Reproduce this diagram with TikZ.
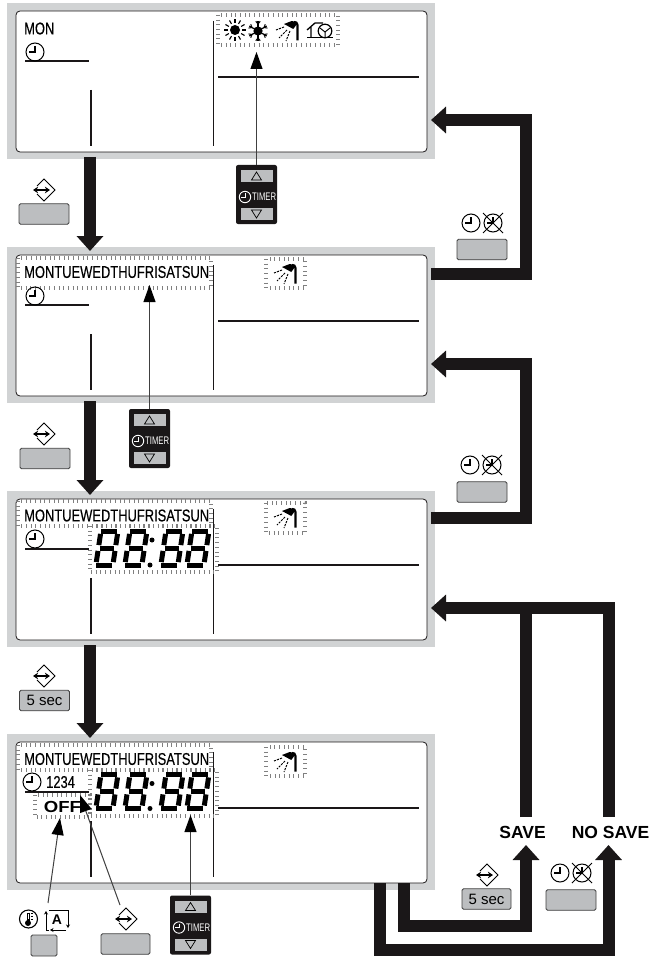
\documentclass[tikz,border=0pt]{standalone}
\usepackage{fontspec}
\setmainfont{Liberation Sans}
\newfontfamily\lcdfont[FakeStretch=0.76,FakeBold=0.3]{Liberation Sans}
\newfontfamily\timerfont[FakeStretch=0.7]{Liberation Sans}
\newfontfamily\offfont[FakeStretch=1.16]{Liberation Sans}
\usetikzlibrary{arrows.meta}
\definecolor{panelgray}{HTML}{D1D3D4}
\definecolor{keygray}{HTML}{BCBEC0}
\definecolor{inkblack}{HTML}{1A1718}

\newcommand{\lcdpanel}[2]{
\begin{scope}[shift={(0,#2)}]
\node[panelback] (#1back) at (221,78) {};
\node[panelface] (#1) at (221.5,78.5) {};
\coordinate (#1out) at (431,27);
\coordinate (#1in) at (431,117);
\coordinate (#1tip) at (90,4);
\coordinate (#1tail) at (90,154);
\draw[lcdline] (25,58) -- (89,58);
\draw[lcdline] (91,87) -- (91,143);
\draw[lcdline] (213.5,18) -- (213.5,143);
\draw[lcdline] (218,74) -- (419,74);
\end{scope}
}
\newcommand{\clockicon}[2]{
\begin{scope}[shift={(#1,#2)}]
\draw[line width=1pt] (0,0) circle (9);
\draw[line width=1.3pt] (0,-6) -- (0,0) -- (-6.5,0);
\end{scope}
}
\newcommand{\offclockicon}[2]{
\clockicon{#1}{#2}
\begin{scope}[shift={(#1+22,#2)}]
\draw[line width=1pt] (0,0) circle (9);
\draw[line width=1pt] (-10,-10) -- (10,10) (10,-10) -- (-10,10);
\draw[line width=1.3pt] (0,-6) -- (0,0) -- (-6.5,0);
\end{scope}
}
\newcommand{\modeicon}[2]{
\begin{scope}[shift={(#1,#2)}]
\draw[line width=1pt] (-7,-4) -- (0,-11) -- (11,0) -- (0,11) -- (-7,4);
\draw[line width=1.6pt,{Stealth[length=5pt,width=6.5pt]}-{Stealth[length=5pt,width=6.5pt]}] (-11,0) -- (6,0);
\end{scope}
}
\newcommand{\showericon}[2]{
\begin{scope}[shift={(#1,#2)}]
\draw[line width=2.2pt] (10.5,9.5) -- (10.5,-6) to[out=90,in=20] (7,-9);
\fill (-3,-7) -- (4.7,-10) to[out=0,in=110] (10,-7) -- (6.3,-2) -- cycle;
\draw[line width=1pt,dash pattern=on 2.2pt off 1.1pt] (-3,-4) -- (-11,-1) (0,-1) -- (-8,7) (3,0) -- (-1,10);
\end{scope}
}
\newcommand{\lcdeight}[2]{
\begin{scope}[shift={(#1,#2)},xslant=0.15]
\draw[segment] (3,-36.5) -- (19,-36.5) (4,-19.5) -- (18,-19.5) (3,-2.5) -- (19,-2.5);
\draw[segment] (2.5,-33.6) -- (2.5,-22.4) (2.5,-16.6) -- (2.5,-5.4) (19.5,-33.6) -- (19.5,-22.4) (19.5,-16.6) -- (19.5,-5.4);
\end{scope}
}
\newcommand{\lcdtime}[1]{
\lcdeight{93}{#1}
\lcdeight{122}{#1}
\lcdeight{158}{#1}
\lcdeight{184}{#1}
\fill (152,#1-27.5) circle (2.5);
\fill (150,#1-2.5) circle (2.5);
}
\newcommand{\timerbox}[3]{
\node[timerbody] (#1) at (#2,#3) {};
\node[timerkey] (#1up) at (#2,#3-18.5) {};
\node[timerkey] (#1down) at (#2,#3+19.5) {};
\node[timerlabel,anchor=west] (#1text) at (#2-4.5,#3+2.5) {TIMER};
\begin{scope}[shift={(#2,#3)}]
\draw[line width=.7pt] (-5,-14.5) -- (0,-22.5) -- (5,-14.5) -- cycle;
\draw[line width=.7pt] (-5,15.5) -- (0,23.5) -- (5,15.5) -- cycle;
\draw[white,line width=.9pt] (-11.5,2.5) circle (5.7);
\draw[white,line width=1pt] (-11.5,-1.5) -- (-11.5,2.5) -- (-15.5,2.5);
\end{scope}
}

\begin{document}
\begin{tikzpicture}[x=1pt,y=-1pt,
panelback/.style={rectangle,fill=panelgray,minimum width=428pt,minimum height=156.5pt,inner sep=0pt},
panelface/.style={rectangle,rounded corners=4pt,draw=inkblack,line width=.8pt,fill=white,minimum width=411pt,minimum height=141pt,inner sep=0pt},
lcdline/.style={draw=inkblack,line width=1.8pt},
blink/.style={draw=black!50,line width=3.4pt,dash pattern=on .8pt off 3.9pt},
segment/.style={draw=black,line width=5pt},
keybtn/.style={rectangle,rounded corners=1.5pt,draw=black!75,line width=.8pt,fill=keygray,minimum width=50pt,minimum height=20.5pt,inner sep=0pt,font=\fontsize{15}{15}\selectfont},
timerbody/.style={rectangle,rounded corners=2pt,fill=inkblack,minimum width=41pt,minimum height=59pt,inner sep=0pt},
timerkey/.style={rectangle,fill=keygray,minimum width=32pt,minimum height=12pt,inner sep=0pt},
timerlabel/.style={text=white,inner sep=0pt,font=\fontsize{11}{11}\timerfont},
daytext/.style={anchor=west,inner sep=0pt,font=\fontsize{17}{17}\lcdfont},
flowlabel/.style={inner sep=0pt,font=\fontsize{17.5}{17.5}\bfseries},
fatline/.style={draw=inkblack,line width=12pt},
fatarrow/.style={fatline,-{Triangle[length=15pt,width=26pt]}},
thinarrow/.style={draw=black!75,line width=1pt,-{Triangle[length=17pt,width=12pt,color=black]}}]
\useasboundingbox (0,0) rectangle (651,960);
\lcdpanel{panelA}{3}
\lcdpanel{panelB}{247}
\lcdpanel{panelC}{491}
\lcdpanel{panelD}{734}
\draw[blink] (218,15) rectangle (338,45);
\draw[blink] (18,258) rectangle (211,288);
\draw[blink] (266,259) rectangle (305,288);
\draw[blink] (18,501) rectangle (211,526);
\draw[blink] (90,526) rectangle (217,572);
\draw[blink] (266,503) rectangle (305,533);
\draw[blink] (18,745) rectangle (211,770);
\draw[blink] (90,770) rectangle (217,816);
\draw[blink] (35,795) rectangle (90,817);
\draw[blink] (266,747) rectangle (305,776);
\node[daytext] (monA) at (24,28.5) {MON};
\node[daytext] (daysB) at (24,272) {MONTUEWEDTHUFRISATSUN};
\node[daytext] (daysC) at (24,515.5) {MONTUEWEDTHUFRISATSUN};
\node[daytext] (daysD) at (24,759) {MONTUEWEDTHUFRISATSUN};
\clockicon{35}{52}
\clockicon{35}{296}
\clockicon{35}{539}
\clockicon{32}{782}
\node[inner sep=0pt,anchor=west,font=\fontsize{17}{17}\lcdfont] (countD) at (46,782) {1234};
\node[inner sep=0pt,font=\fontsize{16}{16}\offfont\bfseries] (offD) at (62.5,806.5) {OFF};
\lcdtime{567.5}
\lcdtime{811}
\foreach \a in {0,30,...,330} \draw[line width=1.1pt] (235,30) ++(\a:7) -- ++(\a:4);
\fill (235,30) circle (5);
\foreach \a in {30,90,150} \draw[line width=1.2pt] (258,31) ++(\a:10) -- ++(\a+180:20);
\foreach \a in {30,90,150,210,270,330} \draw[line width=1pt] (258,31) ++(\a:7) -- ++(\a+40:3.5) (258,31) ++(\a:7) -- ++(\a-40:3.5);
\fill (258,31) circle (4.6);
\showericon{287}{31}
\draw[line width=1.3pt] (307,37.5) -- (333,37.5);
\draw[line width=1.3pt] (311,37.5) -- (311,27) (307,30) -- (315,23) -- (323,23);
\draw[line width=1.2pt,fill=white] (325,31) circle (6.8);
\draw[line width=1pt] (320,28) -- (325,32) -- (330,28) (325,32) -- (325,37);
\showericon{285}{274}
\showericon{285}{518}
\showericon{285}{762}
\node[keybtn] (modeA) at (44,214) {};
\modeicon{44}{190}
\timerbox{timerA}{256.5}{194.5}
\coordinate (tipA) at (256.5,52);
\draw[thinarrow] (timerA.north) -- (tipA);
\node[keybtn] (offA) at (482,249.5) {};
\offclockicon{471}{223}
\node[keybtn] (modeB) at (45,458.5) {};
\modeicon{44}{434}
\timerbox{timerB}{149.5}{438.5}
\coordinate (tipB) at (149.5,285);
\draw[thinarrow] (timerB.north) -- (tipB);
\node[keybtn] (offB) at (482,492) {};
\offclockicon{470}{465}
\node[keybtn] (secC) at (44.5,700.5) {5 sec};
\modeicon{44}{676}
\node[keybtn,minimum width=26pt,minimum height=21pt] (tempD) at (44,945.5) {};
\draw[line width=1.1pt] (28.5,919) circle (9);
\draw[line width=3pt] (28,912.5) -- (28,922);
\draw[white,line width=1pt] (28,913.5) -- (28,919);
\fill (28,923) circle (3);
\draw[line width=.8pt] (30.5,913) -- (33,913) (30.5,916) -- (33,916) (30.5,919) -- (33,919);
\node[inner sep=0pt,font=\fontsize{14}{14}\bfseries] (letterD) at (57,920) {A};
\draw[line width=.9pt,-{Stealth[length=3.5pt,width=4pt]}] (49,930) -- (46,930) -- (46,911);
\draw[line width=.9pt,-{Stealth[length=3.5pt,width=4pt]}] (49,910) -- (68,910) -- (68,928);
\draw[line width=.9pt,-{Stealth[length=3.5pt,width=4pt]}] (66,930) -- (50,930);
\node[keybtn,minimum width=49pt] (modeD) at (125.5,944) {};
\modeicon{126}{919}
\timerbox{timerD}{190.5}{925}
\coordinate (tipE) at (60,818);
\coordinate (tipF) at (80,795);
\coordinate (tipG) at (190.5,815);
\coordinate (baseE) at (48,903);
\coordinate (baseF) at (120,905);
\draw[thinarrow] (baseE) -- (tipE);
\draw[thinarrow] (baseF) -- (tipF);
\draw[thinarrow] (timerD.north) -- (tipG);
\node[keybtn,minimum width=49pt] (secD) at (486.5,899) {5 sec};
\modeicon{487}{875}
\node[keybtn] (offE) at (571,900) {};
\offclockicon{560}{873}
\node[flowlabel] (save) at (522.5,832) {SAVE};
\node[flowlabel] (nosave) at (610.5,832) {NO SAVE};
\coordinate (savetop) at (526,817);
\coordinate (nosavetop) at (608.5,817);
\coordinate (savetip) at (526,845);
\coordinate (nosavetip) at (608.5,845);
\coordinate (outsave) at (404,883);
\coordinate (outnosave) at (380,883);
\draw[fatarrow] (panelAtail) -- (panelBtip);
\draw[fatarrow] (panelBtail) -- (panelCtip);
\draw[fatarrow] (panelCtail) -- (panelDtip);
\draw[fatarrow] (panelBout) -| (526,200) |- (panelAin);
\draw[fatarrow] (panelCout) -| (526,440) |- (panelBin);
\draw[fatarrow] (nosavetop) |- (panelCin);
\draw[fatline] (savetop) -- (526,610);
\draw[fatarrow] (outsave) |- (526,926) -- (savetip);
\draw[fatarrow] (outnosave) |- (608.5,950) -- (nosavetip);
\end{tikzpicture}
\end{document}
